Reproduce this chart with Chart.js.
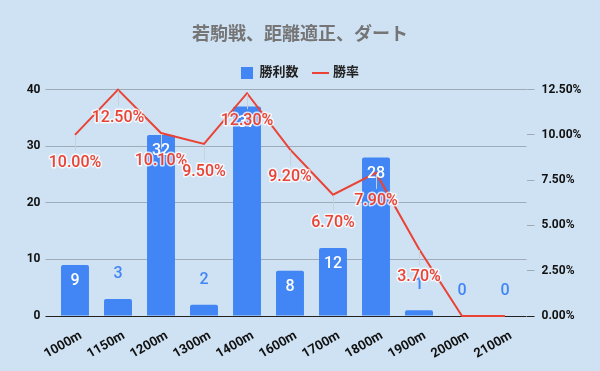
<!DOCTYPE html>
<html>
<head>
<meta charset="utf-8">
<script src="https://cdn.jsdelivr.net/npm/chart.js@4"></script>
<style>
html,body{margin:0;padding:0;background:#cfe2f3;}
#wrap{width:600px;height:371px;position:relative;}
</style>
</head>
<body>
<div id="wrap"><canvas id="c" width="600" height="371"></canvas></div>
<script>
const categories = ['1000m','1150m','1200m','1300m','1400m','1600m','1700m','1800m','1900m','2000m','2100m'];
const wins = [9, 3, 32, 2, 37, 8, 12, 28, 1, 0, 0];
const winRate = [10.0, 12.5, 10.1, 9.5, 12.3, 9.2, 6.7, 7.9, 3.7, 0, 0];
const leftTicks = [0, 10, 20, 30, 40];
const rightTicks = [0, 2.5, 5, 7.5, 10, 12.5];

const FONT = "Roboto, 'Noto Sans CJK JP', sans-serif";
const BLUE = '#4285f4';
const RED = '#ea4335';
const GRID = '#9eabb8';

const bgPlugin = {
  id: 'bg',
  beforeDraw(chart) {
    const ctx = chart.ctx;
    ctx.save();
    ctx.fillStyle = '#cfe2f3';
    ctx.fillRect(0, 0, chart.width, chart.height);
    ctx.restore();
  }
};

const labelPlugin = {
  id: 'valueLabels',
  afterDatasetsDraw(chart) {
    const ctx = chart.ctx;
    ctx.save();
    const barMeta = chart.getDatasetMeta(0);
    ctx.font = "500 16px " + FONT;
    ctx.textAlign = 'center';
    ctx.textBaseline = 'middle';
    barMeta.data.forEach((el, i) => {
      const v = wins[i];
      if (v >= 5) {
        ctx.fillStyle = '#ffffff';
        ctx.fillText(String(v), el.x, el.y + 16);
      } else {
        ctx.fillStyle = BLUE;
        ctx.fillText(String(v), el.x, el.y - 25);
      }
    });
    const lineMeta = chart.getDatasetMeta(1);
    lineMeta.data.forEach((el, i) => {
      const v = winRate[i];
      if (!v) return;
      ctx.strokeStyle = '#c5d2de';
      ctx.lineWidth = 1;
      ctx.beginPath();
      ctx.moveTo(Math.round(el.x) + 0.5, el.y + 1);
      ctx.lineTo(Math.round(el.x) + 0.5, el.y + 16);
      ctx.stroke();
    });
    ctx.font = "500 16px " + FONT;
    lineMeta.data.forEach((el, i) => {
      const v = winRate[i];
      if (!v) return;
      const txt = v.toFixed(2) + '%';
      ctx.lineJoin = 'round';
      ctx.lineWidth = 3;
      ctx.strokeStyle = 'rgba(255,255,255,0.75)';
      ctx.strokeText(txt, el.x, el.y + 28);
      ctx.fillStyle = RED;
      ctx.fillText(txt, el.x, el.y + 28);
    });
    ctx.restore();
  }
};

const gridColor = (ctx) => (ctx.tick && ctx.tick.value === 0) ? '#222222' : GRID;

new Chart(document.getElementById('c'), {
  data: {
    labels: categories,
    datasets: [
      {
        type: 'bar',
        label: '勝利数',
        data: wins,
        backgroundColor: BLUE,
        borderRadius: 2,
        borderSkipped: 'bottom',
        barPercentage: 0.65,
        categoryPercentage: 1.0,
        yAxisID: 'y',
        order: 2,
        pointStyle: 'rect'
      },
      {
        type: 'line',
        label: '勝率',
        data: winRate,
        borderColor: RED,
        backgroundColor: RED,
        borderWidth: 2,
        pointRadius: 0,
        tension: 0,
        clip: false,
        yAxisID: 'y1',
        order: 1,
        pointStyle: 'line'
      }
    ]
  },
  options: {
    responsive: false,
    animation: false,
    layout: { padding: { left: 0, right: 0, top: 0, bottom: 0 } },
    plugins: {
      title: {
        display: true,
        text: '若駒戦、距離適正、ダート',
        color: '#757575',
        font: { family: FONT, size: 18, weight: 'bold' },
        padding: { top: 25, bottom: 4 }
      },
      legend: {
        display: true,
        position: 'top',
        labels: {
          usePointStyle: true,
          boxWidth: 12,
          boxHeight: 12,
          color: '#222222',
          font: { family: FONT, size: 13, weight: 'bold' },
          padding: 16,
          sort: (a, b) => a.datasetIndex - b.datasetIndex
        }
      },
      tooltip: { enabled: false }
    },
    scales: {
      x: {
        type: 'category',
        offset: true,
        grid: { display: false },
        border: { display: false },
        ticks: {
          color: '#111111',
          font: { family: FONT, size: 13, weight: 'bold' },
          minRotation: 30,
          maxRotation: 30,
          labelOffset: 6,
          padding: 4,
          autoSkip: false
        },
        afterFit(scale) { scale.height = 55; }
      },
      y: {
        position: 'left',
        min: 0,
        max: 40,
        afterBuildTicks(scale) { scale.ticks = leftTicks.map(v => ({ value: v })); },
        grid: { color: gridColor, lineWidth: 1, tickLength: 8, drawTicks: true },
        border: { display: false },
        ticks: {
          color: '#111111',
          font: { family: FONT, size: 12, weight: 'bold' },
          padding: 5
        },
        afterFit(scale) { scale.width = 53.5; }
      },
      y1: {
        position: 'right',
        min: 0,
        max: 12.5,
        afterBuildTicks(scale) { scale.ticks = rightTicks.map(v => ({ value: v })); },
        grid: { color: gridColor, drawOnChartArea: false, tickLength: 8, drawTicks: true },
        border: { display: false },
        ticks: {
          color: '#111111',
          font: { family: FONT, size: 12, weight: 'bold' },
          padding: 7,
          callback: (v) => Number(v).toFixed(2) + '%'
        },
        afterFit(scale) { scale.width = 73.5; }
      }
    }
  },
  plugins: [bgPlugin, labelPlugin]
});
</script>
</body>
</html>
